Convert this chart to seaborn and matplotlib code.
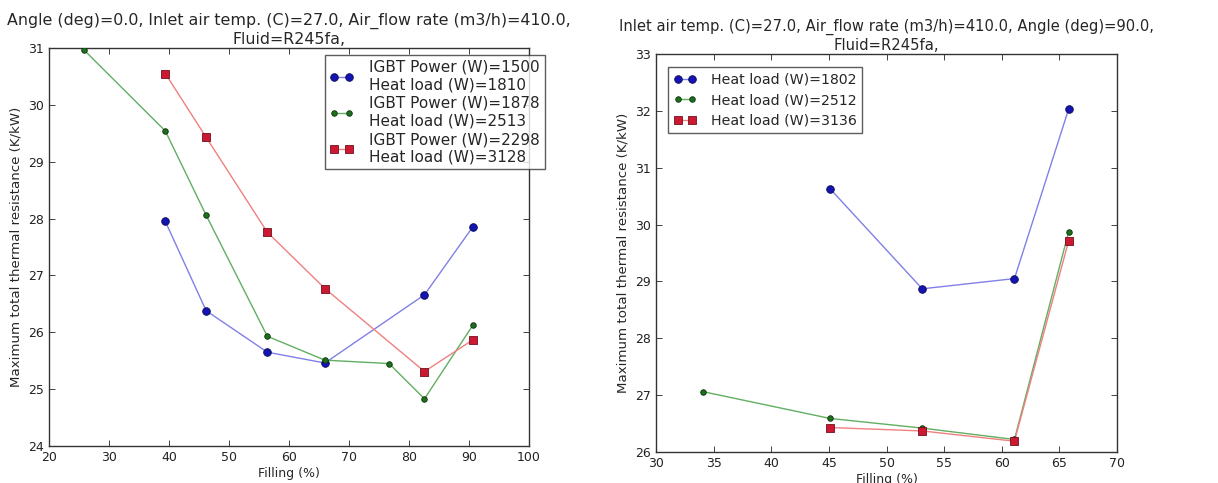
import matplotlib
matplotlib.use("Agg")
import matplotlib.pyplot as plt
from matplotlib.lines import Line2D
import seaborn as sns
import pandas as pd

# Left panel: angle 0 deg
left_blue_x = [39.4, 46.2, 56.4, 66.0, 82.6, 90.7]
left_blue_y = [27.95, 26.38, 25.65, 25.46, 26.66, 27.86]
left_green_x = [25.8, 39.4, 46.2, 56.4, 66.0, 76.7, 82.6, 90.7]
left_green_y = [30.97, 29.54, 28.06, 25.93, 25.51, 25.45, 24.83, 26.13]
left_red_x = [39.4, 46.2, 56.4, 66.0, 82.6, 90.7]
left_red_y = [30.55, 29.43, 27.76, 26.77, 25.31, 25.87]
left_labels = [
    "IGBT Power (W)=1500\nHeat load (W)=1810",
    "IGBT Power (W)=1878\nHeat load (W)=2513",
    "IGBT Power (W)=2298\nHeat load (W)=3128",
]

# Right panel: angle 90 deg
right_blue_x = [45.1, 53.1, 61.1, 65.8]
right_blue_y = [30.63, 28.87, 29.05, 32.03]
right_green_x = [34.1, 45.1, 53.1, 61.1, 65.8]
right_green_y = [27.06, 26.59, 26.42, 26.22, 29.87]
right_red_x = [45.1, 53.1, 61.1, 65.8]
right_red_y = [26.43, 26.37, 26.19, 29.71]
right_labels = ["Heat load (W)=1802", "Heat load (W)=2512", "Heat load (W)=3136"]

left_title = ("Angle (deg)=0.0, Inlet air temp. (C)=27.0, Air_flow rate (m3/h)=410.0,\n"
              "Fluid=R245fa,")
right_title = ("Inlet air temp. (C)=27.0, Air_flow rate (m3/h)=410.0, Angle (deg)=90.0,\n"
               "Fluid=R245fa,")

sns.set_style("ticks", {"xtick.direction": "in", "ytick.direction": "in"})
plt.rcParams["font.family"] = ["DejaVu Sans"]
plt.rcParams["xtick.top"] = True
plt.rcParams["ytick.right"] = True

# marker, face colour, edge colour, line colour, marker size
styles = [
    ("o", "#1414b4", "#0c0c50", "#8080e6", 5.5),
    ("o", "#1c701c", "#0c300c", "#62ae62", 4.0),
    ("s", "#cc1830", "#701020", "#f08080", 5.5),
]

fig = plt.figure(figsize=(12.18, 4.83), dpi=100)
ax1 = fig.add_axes([0.0402, 0.0766, 0.394, 0.824])
ax2 = fig.add_axes([0.5386, 0.0642, 0.3785, 0.824])


def draw_panel(ax, series, labels, fs):
    handles = []
    for (xs, ys), (mk, fc, ec, lc, ms), lab in zip(series, styles, labels):
        df = pd.DataFrame({"x": xs, "y": ys})
        sns.lineplot(data=df, x="x", y="y", ax=ax, color=lc, linewidth=1.0,
                     sort=False)
        sns.scatterplot(data=df, x="x", y="y", ax=ax, marker=mk, color=fc,
                        edgecolor=ec, linewidth=0.6, s=ms ** 2, zorder=3)
        handles.append(Line2D([0], [0], color=lc, lw=1.0, marker=mk,
                              markerfacecolor=fc, markeredgecolor=ec,
                              markeredgewidth=0.6, markersize=ms, label=lab))
    for sp in ax.spines.values():
        sp.set_linewidth(1.0)
        sp.set_color("#333333")
    ax.tick_params(labelsize=fs, length=4, width=0.6, colors="#222222")
    ax.set_xlabel("Filling (%)", fontsize=fs, labelpad=2)
    ax.set_ylabel("Maximum total thermal resistance (K/kW)", fontsize=fs + 0.6,
                  labelpad=4)
    return handles


h1 = draw_panel(ax1, [(left_blue_x, left_blue_y), (left_green_x, left_green_y),
                      (left_red_x, left_red_y)], left_labels, 9)
ax1.set_xlim(20, 100)
ax1.set_ylim(24, 31)
ax1.set_title(left_title, fontsize=11.4, pad=3)
leg1 = ax1.legend(handles=h1, loc="upper right", bbox_to_anchor=(1.033, 0.982),
                  fontsize=11, numpoints=2, fancybox=False, frameon=True,
                  handlelength=1.6, borderpad=0.3, labelspacing=0.25,
                  handletextpad=1.0, borderaxespad=0)
leg1.get_frame().set_edgecolor("#333333")
leg1.get_frame().set_linewidth(1.0)

h2 = draw_panel(ax2, [(right_blue_x, right_blue_y), (right_green_x, right_green_y),
                      (right_red_x, right_red_y)], right_labels, 9)
ax2.set_xlim(30, 70)
ax2.set_ylim(26, 33)
ax2.set_title(right_title, fontsize=10.6, pad=3)
leg2 = ax2.legend(handles=h2, loc="upper left", bbox_to_anchor=(0.026, 0.967),
                  fontsize=10.2, numpoints=2, fancybox=False, frameon=True,
                  handlelength=1.6, borderpad=0.4, labelspacing=0.45,
                  handletextpad=1.0, borderaxespad=0)
leg2.get_frame().set_edgecolor("#333333")
leg2.get_frame().set_linewidth(1.0)

fig.savefig("out.png", dpi=100)
